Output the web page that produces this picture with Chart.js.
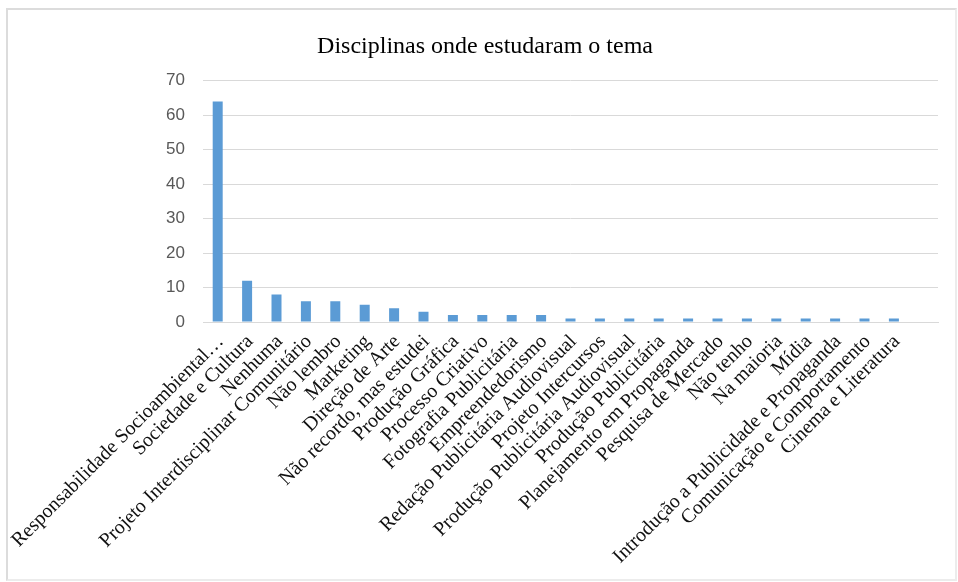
<!DOCTYPE html>
<html>
<head>
<meta charset="utf-8">
<script src="https://cdn.jsdelivr.net/npm/chart.js@4/dist/chart.umd.min.js"></script>
<style>
  html, body { margin: 0; padding: 0; background: #fff; }
  #wrap { position: relative; width: 958px; height: 582px; }
  #frame { position: absolute; left: 6px; top: 8px; width: 951px; height: 573px;
           border: 2px solid #dcdcdc; border-right-color: #ececec; border-bottom-color: #ececec;
           box-sizing: border-box; }
  canvas { position: absolute; left: 0; top: 0; }
</style>
</head>
<body>
<div id="wrap">
  <div id="frame"></div>
  <canvas id="grafico" width="958" height="582"></canvas>
</div>
<script>
  // Disciplinas (a última categoria fica vazia, como no original)
  const disciplinas = [
    "Responsabilidade Socioambiental…",
    "Sociedade e Cultura",
    "Nenhuma",
    "Projeto Interdisciplinar Comunitário",
    "Não lembro",
    "Marketing",
    "Direção de Arte",
    "Não recordo, mas estudei",
    "Produção Gráfica",
    "Processo Criativo",
    "Fotografia Publicitária",
    "Empreendedorismo",
    "Redação Publicitária Audiovisual",
    "Projeto Intercursos",
    "Produção Publicitária Audiovisual",
    "Produção Publicitária",
    "Planejamento em Propaganda",
    "Pesquisa de Mercado",
    "Não tenho",
    "Na maioria",
    "Mídia",
    "Introdução a Publicidade e Propaganda",
    "Comunicação e Comportamento",
    "Cinema e Literatura",
    ""
  ];
  const respostas = [64, 12, 8, 6, 6, 5, 4, 3, 2, 2, 2, 2, 1, 1, 1, 1, 1, 1, 1, 1, 1, 1, 1, 1, null];
  const ticksY = [0, 10, 20, 30, 40, 50, 60, 70];

  const ctx = document.getElementById("grafico");
  new Chart(ctx, {
    type: "bar",
    data: {
      labels: disciplinas,
      datasets: [{
        label: "Disciplinas",
        data: respostas,
        backgroundColor: "#5b9bd5",
        barPercentage: 0.34,
        categoryPercentage: 1
      }]
    },
    options: {
      responsive: false,
      animation: false,
      layout: { padding: { left: 32, right: 20, top: 0, bottom: 0 } },
      plugins: {
        legend: { display: false },
        tooltip: { enabled: false },
        title: {
          display: true,
          text: "Disciplinas onde estudaram o tema",
          color: "#000",
          font: { family: "'Liberation Serif', 'Times New Roman', serif", size: 24, weight: "normal" },
          padding: { top: 32, bottom: 20 }
        }
      },
      scales: {
        x: {
          grid: { display: false, drawTicks: false },
          border: { display: true, color: "#d9d9d9", width: 1 },
          ticks: {
            autoSkip: false,
            minRotation: 45,
            maxRotation: 45,
            padding: 8,
            labelOffset: 3,
            color: "#111",
            font: { family: "'Liberation Serif', 'Times New Roman', serif", size: 20 }
          },
          afterFit: (scale) => {
            scale.height = 260;
            // não deixa o rótulo longo empurrar a área do gráfico
            scale.paddingLeft = 0;
            scale.paddingRight = 0;
          }
        },
        y: {
          min: 0,
          max: 70,
          afterBuildTicks: (scale) => { scale.ticks = ticksY.map(v => ({ value: v })); },
          grid: { color: "#d9d9d9", drawTicks: false },
          border: { display: false },
          ticks: {
            padding: 18,
            color: "#595959",
            font: { family: "'Liberation Sans', Arial, sans-serif", size: 17 }
          },
          afterFit: (scale) => { scale.width = 171; }
        }
      }
    }
  });
</script>
</body>
</html>
